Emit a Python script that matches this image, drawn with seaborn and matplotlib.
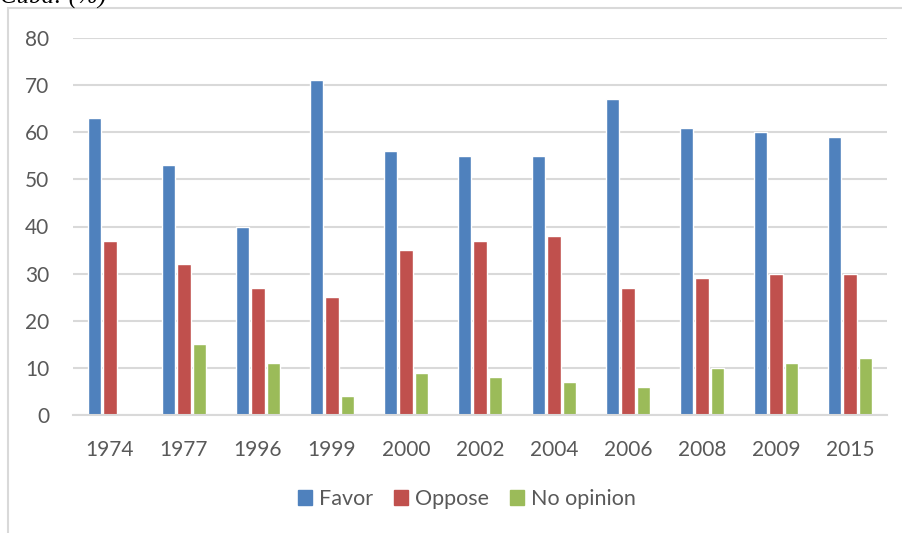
import pandas as pd
import matplotlib.pyplot as plt
import matplotlib.patches as mpatches
import seaborn as sns

# Survey values (%)
years = ["1974", "1977", "1996", "1999", "2000", "2002", "2004", "2006", "2008", "2009", "2015"]
favor = [63, 53, 40, 71, 56, 55, 55, 67, 61, 60, 59]
oppose = [37, 32, 27, 25, 35, 37, 38, 27, 29, 30, 30]
no_opinion = [None, 15, 11, 4, 9, 8, 7, 6, 10, 11, 12]
series = ["Favor", "Oppose", "No opinion"]
colors = ["#4F81BD", "#C0504D", "#9BBB59"]


def main():
    df = pd.DataFrame({"Year": years, "Favor": favor, "Oppose": oppose, "No opinion": no_opinion})
    long_df = df.melt(id_vars="Year", var_name="Response", value_name="Percent")

    sns.set_style("white")
    plt.rcParams["font.family"] = ["Lato", "DejaVu Sans"]

    fig = plt.figure(figsize=(9.02, 5.33), dpi=100)
    ax = fig.add_axes([73 / 902, 1 - 415 / 533, 814 / 902, 377 / 533])

    sns.barplot(data=long_df, x="Year", y="Percent", hue="Response", order=years,
                hue_order=series, palette=colors, width=0.61, gap=0.13,
                saturation=1, ax=ax, legend=False)

    ax.set_ylim(0, 80)
    ax.set_yticks(range(0, 81, 10))
    ax.grid(axis="y", color="#D9D9D9", linewidth=1.5)
    ax.set_axisbelow(True)
    for side in ["top", "right", "left"]:
        ax.spines[side].set_visible(False)
    ax.spines["bottom"].set_color("#D9D9D9")
    ax.spines["bottom"].set_linewidth(1.5)
    ax.tick_params(axis="both", length=0, labelsize=15, labelcolor="#595959")
    ax.tick_params(axis="x", pad=18)
    ax.tick_params(axis="y", pad=17)
    ax.set_xlabel("")
    ax.set_ylabel("")

    # legend below the plot
    handles = [mpatches.Patch(color=c, label=s) for s, c in zip(series, colors)]
    fig.legend(handles=handles, loc="center", bbox_to_anchor=(467 / 902, 1 - 499 / 533),
               ncol=3, frameon=False, fontsize=15.5, labelcolor="#595959",
               handlelength=0.65, handleheight=0.65, handletextpad=0.3, columnspacing=1.0)

    # chart frame (cut off at right and bottom)
    frame = mpatches.Rectangle((8 / 902, -0.1), 1.2, 1 - 8 / 533 + 0.1,
                               transform=fig.transFigure, fill=False,
                               edgecolor="#D9D9D9", linewidth=1.5)
    fig.patches.append(frame)

    # caption above the frame, clipped by the top edge as in the source
    fig.text(0.0, 1 - 4 / 533, "Cuba: (%)", family="Liberation Serif", style="italic",
             fontsize=18, color="#000000", va="baseline")

    fig.savefig("out.png", dpi=100)


if __name__ == "__main__":
    main()
